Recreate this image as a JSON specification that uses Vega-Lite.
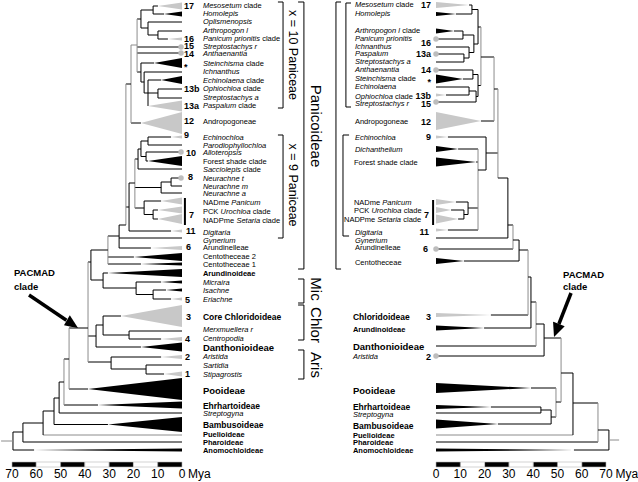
{
"$schema": "https://vega.github.io/schema/vega-lite/v6.json",
"padding": 0,
"spacing": 0,
"bounds": "flush",
"background": "white",
"config": {"view": {"stroke": null}, "text": {"font": "Liberation Sans", "color": "#000000"}},
"datasets": {
"scalebar": [
{"t":70,"t2":60,"y":462,"y2":467,"band":"dark"},{"t":60,"t2":50,"y":462,"y2":467,"band":"blank"},{"t":50,"t2":40,"y":462,"y2":467,"band":"dark"},{"t":40,"t2":30,"y":462,"y2":467,"band":"blank"},{"t":30,"t2":20,"y":462,"y2":467,"band":"dark"},{"t":20,"t2":10,"y":462,"y2":467,"band":"blank"},{"t":10,"t2":0,"y":462,"y2":467,"band":"dark"}],
"ticks": [
{"t":70,"y":474,"label":"70"},{"t":60,"y":474,"label":"60"},{"t":50,"y":474,"label":"50"},{"t":40,"y":474,"label":"40"},{"t":30,"y":474,"label":"30"},{"t":20,"y":474,"label":"20"},{"t":10,"y":474,"label":"10"},{"t":0,"y":474,"label":"0"}],
"branchesL": [
{"t":11.9,"t2":9.9,"y":6,"y2":6,"support":"strong"},
{"t":11.9,"t2":7.4,"y":14,"y2":14,"support":"strong"},
{"t":11.9,"t2":11.9,"y":6,"y2":14,"support":"strong"},
{"t":16.9,"t2":11.9,"y":10,"y2":10,"support":"strong"},
{"t":14.0,"t2":0,"y":22,"y2":22,"support":"strong"},
{"t":9.9,"t2":0,"y":31,"y2":31,"support":"strong"},
{"t":9.9,"t2":5.8,"y":39,"y2":39,"support":"strong"},
{"t":9.9,"t2":9.9,"y":31,"y2":39,"support":"strong"},
{"t":14.0,"t2":9.9,"y":35,"y2":35,"support":"strong"},
{"t":14.0,"t2":14.0,"y":22,"y2":35,"support":"strong"},
{"t":16.9,"t2":14.0,"y":28,"y2":28,"support":"strong"},
{"t":16.9,"t2":16.9,"y":10,"y2":28,"support":"strong"},
{"t":18.5,"t2":16.9,"y":19,"y2":19,"support":"strong"},
{"t":18.5,"t2":0.4,"y":47,"y2":47,"support":"strong"},
{"t":18.5,"t2":0.4,"y":53,"y2":53,"support":"strong"},
{"t":16.9,"t2":11.5,"y":63,"y2":63,"support":"strong"},
{"t":15.6,"t2":0,"y":72,"y2":72,"support":"strong"},
{"t":14.0,"t2":8.6,"y":80,"y2":80,"support":"strong"},
{"t":9.9,"t2":0,"y":89,"y2":89,"support":"strong"},
{"t":9.9,"t2":0,"y":98,"y2":98,"support":"strong"},
{"t":9.9,"t2":9.9,"y":89,"y2":98,"support":"strong"},
{"t":15.6,"t2":9.9,"y":93,"y2":93,"support":"strong"},
{"t":14.0,"t2":14.0,"y":80,"y2":106,"support":"strong"},
{"t":15.6,"t2":15.6,"y":72,"y2":93,"support":"strong"},
{"t":16.9,"t2":15.6,"y":82,"y2":82,"support":"strong"},
{"t":16.9,"t2":16.9,"y":63,"y2":82,"support":"strong"},
{"t":18.5,"t2":16.9,"y":72,"y2":72,"support":"strong"},
{"t":18.5,"t2":18.5,"y":19,"y2":72,"support":"weak"},
{"t":21.0,"t2":18.5,"y":45,"y2":45,"support":"weak"},
{"t":21.0,"t2":16.9,"y":123,"y2":123,"support":"strong"},
{"t":21.0,"t2":21.0,"y":45,"y2":123,"support":"weak"},
{"t":23.1,"t2":21.0,"y":84,"y2":84,"support":"strong"},
{"t":14.0,"t2":4.5,"y":137,"y2":137,"support":"strong"},
{"t":14.0,"t2":0,"y":145,"y2":145,"support":"strong"},
{"t":14.0,"t2":14.0,"y":137,"y2":145,"support":"strong"},
{"t":16.9,"t2":14.0,"y":141,"y2":141,"support":"strong"},
{"t":14.8,"t2":0.4,"y":152,"y2":152,"support":"strong"},
{"t":14.8,"t2":14.0,"y":161,"y2":161,"support":"strong"},
{"t":14.8,"t2":14.8,"y":152,"y2":161,"support":"strong"},
{"t":16.9,"t2":14.8,"y":156.5,"y2":156.5,"support":"strong"},
{"t":16.9,"t2":16.9,"y":141,"y2":156.5,"support":"strong"},
{"t":18.1,"t2":16.9,"y":149,"y2":149,"support":"strong"},
{"t":18.1,"t2":0,"y":169,"y2":169,"support":"strong"},
{"t":18.1,"t2":18.1,"y":149,"y2":169,"support":"strong"},
{"t":19.4,"t2":18.1,"y":159,"y2":159,"support":"strong"},
{"t":4.5,"t2":0.4,"y":178,"y2":178,"support":"strong"},
{"t":4.5,"t2":0,"y":186,"y2":186,"support":"strong"},
{"t":4.5,"t2":4.5,"y":178,"y2":186,"support":"strong"},
{"t":8.6,"t2":4.5,"y":182,"y2":182,"support":"strong"},
{"t":8.6,"t2":0,"y":193,"y2":193,"support":"strong"},
{"t":8.6,"t2":8.6,"y":182,"y2":193,"support":"strong"},
{"t":19.4,"t2":8.6,"y":187.5,"y2":187.5,"support":"strong"},
{"t":15.6,"t2":8.6,"y":201,"y2":201,"support":"strong"},
{"t":11.9,"t2":9.9,"y":210,"y2":210,"support":"strong"},
{"t":11.9,"t2":9.9,"y":219,"y2":219,"support":"strong"},
{"t":11.9,"t2":11.9,"y":210,"y2":219,"support":"strong"},
{"t":15.6,"t2":11.9,"y":214.5,"y2":214.5,"support":"strong"},
{"t":15.6,"t2":15.6,"y":201,"y2":214.5,"support":"strong"},
{"t":19.4,"t2":15.6,"y":208,"y2":208,"support":"strong"},
{"t":19.4,"t2":19.4,"y":159,"y2":208,"support":"weak"},
{"t":21.8,"t2":19.4,"y":183,"y2":183,"support":"strong"},
{"t":21.8,"t2":4.5,"y":231,"y2":231,"support":"strong"},
{"t":21.8,"t2":21.8,"y":183,"y2":231,"support":"strong"},
{"t":23.1,"t2":21.8,"y":207,"y2":207,"support":"strong"},
{"t":23.1,"t2":23.1,"y":84,"y2":225,"support":"weak"},
{"t":25.9,"t2":23.1,"y":225,"y2":225,"support":"strong"},
{"t":25.9,"t2":0,"y":238,"y2":238,"support":"strong"},
{"t":25.9,"t2":12.8,"y":248,"y2":248,"support":"strong"},
{"t":25.9,"t2":25.9,"y":225,"y2":248,"support":"strong"},
{"t":30.5,"t2":25.9,"y":236,"y2":236,"support":"strong"},
{"t":30.5,"t2":19.8,"y":257,"y2":257,"support":"strong"},
{"t":30.5,"t2":16.9,"y":264,"y2":264,"support":"strong"},
{"t":30.5,"t2":30.5,"y":236,"y2":264,"support":"weak"},
{"t":37.5,"t2":30.5,"y":250,"y2":250,"support":"strong"},
{"t":32.5,"t2":30.5,"y":273,"y2":273,"support":"strong"},
{"t":18.9,"t2":8.6,"y":282,"y2":282,"support":"strong"},
{"t":11.9,"t2":6.6,"y":290,"y2":290,"support":"strong"},
{"t":11.9,"t2":4.5,"y":299,"y2":299,"support":"strong"},
{"t":11.9,"t2":11.9,"y":290,"y2":299,"support":"strong"},
{"t":18.9,"t2":11.9,"y":294.5,"y2":294.5,"support":"strong"},
{"t":18.9,"t2":18.9,"y":282,"y2":294.5,"support":"strong"},
{"t":32.5,"t2":18.9,"y":288,"y2":288,"support":"strong"},
{"t":32.5,"t2":32.5,"y":273,"y2":288,"support":"strong"},
{"t":37.5,"t2":32.5,"y":280,"y2":280,"support":"strong"},
{"t":37.5,"t2":37.5,"y":250,"y2":280,"support":"strong"},
{"t":38.7,"t2":37.5,"y":262,"y2":262,"support":"strong"},
{"t":32.5,"t2":25.1,"y":316,"y2":316,"support":"strong"},
{"t":21.8,"t2":0,"y":331,"y2":331,"support":"strong"},
{"t":21.8,"t2":8.6,"y":339,"y2":339,"support":"strong"},
{"t":21.8,"t2":21.8,"y":331,"y2":339,"support":"strong"},
{"t":32.5,"t2":21.8,"y":335,"y2":335,"support":"strong"},
{"t":32.5,"t2":32.5,"y":316,"y2":335,"support":"strong"},
{"t":35.4,"t2":32.5,"y":325,"y2":325,"support":"strong"},
{"t":35.4,"t2":16.9,"y":347,"y2":347,"support":"strong"},
{"t":35.4,"t2":35.4,"y":325,"y2":347,"support":"strong"},
{"t":38.7,"t2":35.4,"y":336,"y2":336,"support":"strong"},
{"t":29.2,"t2":8.6,"y":357,"y2":357,"support":"strong"},
{"t":14.8,"t2":0,"y":365,"y2":365,"support":"strong"},
{"t":14.8,"t2":7.4,"y":374,"y2":374,"support":"strong"},
{"t":14.8,"t2":14.8,"y":365,"y2":374,"support":"strong"},
{"t":29.2,"t2":14.8,"y":369,"y2":369,"support":"strong"},
{"t":29.2,"t2":29.2,"y":357,"y2":369,"support":"strong"},
{"t":38.7,"t2":29.2,"y":362,"y2":362,"support":"strong"},
{"t":38.7,"t2":38.7,"y":262,"y2":362,"support":"weak"},
{"t":46.5,"t2":38.7,"y":328,"y2":328,"support":"strong"},
{"t":46.5,"t2":38.7,"y":389,"y2":389,"support":"strong"},
{"t":46.5,"t2":46.5,"y":328,"y2":389,"support":"weak"},
{"t":48.6,"t2":46.5,"y":359,"y2":359,"support":"strong"},
{"t":48.6,"t2":34.6,"y":405,"y2":405,"support":"strong"},
{"t":48.6,"t2":48.6,"y":359,"y2":405,"support":"weak"},
{"t":50.6,"t2":48.6,"y":382,"y2":382,"support":"strong"},
{"t":50.6,"t2":0,"y":413,"y2":413,"support":"strong"},
{"t":50.6,"t2":50.6,"y":382,"y2":413,"support":"strong"},
{"t":52.7,"t2":50.6,"y":398,"y2":398,"support":"strong"},
{"t":52.7,"t2":30.5,"y":424.5,"y2":424.5,"support":"strong"},
{"t":52.7,"t2":52.7,"y":398,"y2":424.5,"support":"strong"},
{"t":57.2,"t2":52.7,"y":411,"y2":411,"support":"strong"},
{"t":57.2,"t2":0,"y":435,"y2":435,"support":"weak"},
{"t":57.2,"t2":57.2,"y":411,"y2":435,"support":"strong"},
{"t":65.5,"t2":57.2,"y":423,"y2":423,"support":"strong"},
{"t":65.5,"t2":0,"y":442,"y2":442,"support":"strong"},
{"t":65.5,"t2":65.5,"y":423,"y2":442,"support":"strong"},
{"t":69.6,"t2":65.5,"y":432,"y2":432,"support":"strong"},
{"t":69.6,"t2":60.9,"y":450,"y2":450,"support":"strong"},
{"t":69.6,"t2":69.6,"y":432,"y2":450,"support":"strong"},
{"t":74.5,"t2":69.6,"y":441,"y2":441,"support":"weak"}],
"branchesR": [
{"t":13.6,"t2":14.8,"y":5,"y2":5,"support":"strong"},
{"t":8.2,"t2":14.8,"y":14,"y2":14,"support":"strong"},
{"t":14.8,"t2":14.8,"y":5,"y2":14,"support":"strong"},
{"t":14.8,"t2":17.3,"y":9.5,"y2":9.5,"support":"strong"},
{"t":7.4,"t2":11.1,"y":31,"y2":31,"support":"strong"},
{"t":0,"t2":11.1,"y":39,"y2":39,"support":"strong"},
{"t":11.1,"t2":11.1,"y":31,"y2":39,"support":"strong"},
{"t":11.1,"t2":15.6,"y":35,"y2":35,"support":"strong"},
{"t":0,"t2":13.6,"y":47,"y2":47,"support":"strong"},
{"t":0,"t2":11.5,"y":54,"y2":54,"support":"strong"},
{"t":0,"t2":11.5,"y":62,"y2":62,"support":"strong"},
{"t":11.5,"t2":11.5,"y":54,"y2":62,"support":"strong"},
{"t":11.5,"t2":13.6,"y":58,"y2":58,"support":"strong"},
{"t":13.6,"t2":13.6,"y":47,"y2":58,"support":"strong"},
{"t":13.6,"t2":15.6,"y":52.5,"y2":52.5,"support":"strong"},
{"t":15.6,"t2":15.6,"y":35,"y2":52.5,"support":"strong"},
{"t":15.6,"t2":17.3,"y":44,"y2":44,"support":"strong"},
{"t":17.3,"t2":17.3,"y":9.5,"y2":44,"support":"strong"},
{"t":17.3,"t2":18.5,"y":27,"y2":27,"support":"strong"},
{"t":0,"t2":15.2,"y":70,"y2":70,"support":"strong"},
{"t":11.1,"t2":15.2,"y":79,"y2":79,"support":"strong"},
{"t":15.2,"t2":15.2,"y":70,"y2":79,"support":"strong"},
{"t":15.2,"t2":17.3,"y":74.5,"y2":74.5,"support":"strong"},
{"t":0,"t2":13.6,"y":87,"y2":87,"support":"strong"},
{"t":4.1,"t2":13.6,"y":95,"y2":95,"support":"strong"},
{"t":13.6,"t2":13.6,"y":87,"y2":95,"support":"strong"},
{"t":13.6,"t2":16.5,"y":91,"y2":91,"support":"strong"},
{"t":0,"t2":16.5,"y":102,"y2":102,"support":"strong"},
{"t":16.5,"t2":16.5,"y":91,"y2":102,"support":"strong"},
{"t":16.5,"t2":17.3,"y":96.5,"y2":96.5,"support":"strong"},
{"t":17.3,"t2":17.3,"y":74.5,"y2":96.5,"support":"strong"},
{"t":17.3,"t2":18.5,"y":85.5,"y2":85.5,"support":"strong"},
{"t":18.5,"t2":18.5,"y":27,"y2":85.5,"support":"weak"},
{"t":18.5,"t2":23.9,"y":57,"y2":57,"support":"strong"},
{"t":18.5,"t2":23.9,"y":121,"y2":121,"support":"strong"},
{"t":23.9,"t2":23.9,"y":57,"y2":121,"support":"weak"},
{"t":23.9,"t2":25.5,"y":89,"y2":89,"support":"strong"},
{"t":4.9,"t2":20.6,"y":137,"y2":137,"support":"strong"},
{"t":9.1,"t2":17.3,"y":149,"y2":149,"support":"strong"},
{"t":16.5,"t2":17.3,"y":162,"y2":162,"support":"strong"},
{"t":8.2,"t2":13.2,"y":202,"y2":202,"support":"strong"},
{"t":6.2,"t2":11.5,"y":210,"y2":210,"support":"strong"},
{"t":9.1,"t2":11.5,"y":219,"y2":219,"support":"strong"},
{"t":11.5,"t2":11.5,"y":210,"y2":219,"support":"strong"},
{"t":11.5,"t2":13.2,"y":214.5,"y2":214.5,"support":"strong"},
{"t":13.2,"t2":13.2,"y":202,"y2":214.5,"support":"strong"},
{"t":13.2,"t2":17.3,"y":208,"y2":208,"support":"strong"},
{"t":4.9,"t2":17.3,"y":230,"y2":230,"support":"strong"},
{"t":17.3,"t2":17.3,"y":149,"y2":230,"support":"weak"},
{"t":17.3,"t2":20.6,"y":170,"y2":170,"support":"strong"},
{"t":20.6,"t2":20.6,"y":137,"y2":170,"support":"strong"},
{"t":20.6,"t2":25.5,"y":153,"y2":153,"support":"strong"},
{"t":25.5,"t2":25.5,"y":89,"y2":178,"support":"weak"},
{"t":25.5,"t2":29.6,"y":178,"y2":178,"support":"strong"},
{"t":0,"t2":29.6,"y":238,"y2":238,"support":"strong"},
{"t":29.6,"t2":29.6,"y":178,"y2":238,"support":"strong"},
{"t":29.6,"t2":31.7,"y":225,"y2":225,"support":"strong"},
{"t":0,"t2":31.7,"y":249,"y2":249,"support":"strong"},
{"t":31.7,"t2":31.7,"y":225,"y2":249,"support":"weak"},
{"t":31.7,"t2":34.2,"y":240,"y2":240,"support":"strong"},
{"t":11.5,"t2":34.2,"y":261,"y2":261,"support":"strong"},
{"t":34.2,"t2":34.2,"y":240,"y2":261,"support":"strong"},
{"t":34.2,"t2":37.9,"y":250,"y2":250,"support":"strong"},
{"t":22.6,"t2":37.9,"y":315,"y2":315,"support":"strong"},
{"t":37.9,"t2":37.9,"y":250,"y2":315,"support":"weak"},
{"t":37.9,"t2":39.1,"y":277,"y2":277,"support":"strong"},
{"t":19.8,"t2":39.1,"y":328,"y2":328,"support":"strong"},
{"t":39.1,"t2":39.1,"y":277,"y2":328,"support":"strong"},
{"t":39.1,"t2":41.2,"y":302,"y2":302,"support":"strong"},
{"t":0,"t2":41.2,"y":346,"y2":346,"support":"strong"},
{"t":41.2,"t2":41.2,"y":302,"y2":346,"support":"weak"},
{"t":41.2,"t2":44.5,"y":324,"y2":324,"support":"strong"},
{"t":0,"t2":44.5,"y":356,"y2":356,"support":"strong"},
{"t":44.5,"t2":44.5,"y":324,"y2":356,"support":"strong"},
{"t":44.5,"t2":51.5,"y":338,"y2":338,"support":"strong"},
{"t":39.1,"t2":49.4,"y":388,"y2":388,"support":"strong"},
{"t":22.6,"t2":43.2,"y":407,"y2":407,"support":"strong"},
{"t":0,"t2":43.2,"y":413,"y2":413,"support":"strong"},
{"t":43.2,"t2":43.2,"y":407,"y2":413,"support":"strong"},
{"t":43.2,"t2":47.4,"y":410,"y2":410,"support":"strong"},
{"t":25.5,"t2":47.4,"y":424,"y2":424,"support":"strong"},
{"t":47.4,"t2":47.4,"y":410,"y2":424,"support":"strong"},
{"t":47.4,"t2":49.4,"y":417,"y2":417,"support":"strong"},
{"t":49.4,"t2":49.4,"y":388,"y2":417,"support":"weak"},
{"t":49.4,"t2":51.5,"y":402,"y2":402,"support":"strong"},
{"t":51.5,"t2":51.5,"y":338,"y2":402,"support":"weak"},
{"t":51.5,"t2":56.4,"y":373,"y2":373,"support":"strong"},
{"t":0,"t2":56.4,"y":435,"y2":435,"support":"weak"},
{"t":56.4,"t2":56.4,"y":373,"y2":435,"support":"strong"},
{"t":56.4,"t2":66.7,"y":403,"y2":403,"support":"strong"},
{"t":0,"t2":66.7,"y":442,"y2":442,"support":"strong"},
{"t":66.7,"t2":66.7,"y":403,"y2":442,"support":"weak"},
{"t":66.7,"t2":71.2,"y":430,"y2":430,"support":"strong"},
{"t":56.8,"t2":71.2,"y":450,"y2":450,"support":"strong"},
{"t":71.2,"t2":71.2,"y":430,"y2":450,"support":"strong"},
{"t":71.2,"t2":75.4,"y":440,"y2":440,"support":"weak"}],
"cladesL": [
{"clade":"17","t":9.9,"lo":6,"hi":6,"shade":"light"},{"clade":"17","t":0,"lo":2.5,"hi":9.5,"shade":"light"},
{"clade":"Homolepis","t":7.4,"lo":14,"hi":14,"shade":"dark"},{"clade":"Homolepis","t":0,"lo":11.5,"hi":16.5,"shade":"dark"},
{"clade":"16","t":5.8,"lo":39,"hi":39,"shade":"light"},{"clade":"16","t":0,"lo":37.5,"hi":40.5,"shade":"light"},
{"clade":"Steinchisma","t":11.5,"lo":63,"hi":63,"shade":"dark"},{"clade":"Steinchisma","t":0,"lo":58,"hi":68,"shade":"dark"},
{"clade":"Echinolaena","t":8.6,"lo":80,"hi":80,"shade":"dark"},{"clade":"Echinolaena","t":0,"lo":76,"hi":84,"shade":"dark"},
{"clade":"Paspalum","t":14.0,"lo":106,"hi":106,"shade":"light"},{"clade":"Paspalum","t":0,"lo":100.5,"hi":111.5,"shade":"light"},
{"clade":"Andropogoneae","t":16.9,"lo":123,"hi":123,"shade":"light"},{"clade":"Andropogoneae","t":0,"lo":112,"hi":134,"shade":"light"},
{"clade":"Echinochloa","t":4.5,"lo":137,"hi":137,"shade":"light"},{"clade":"Echinochloa","t":0,"lo":135.5,"hi":138.5,"shade":"light"},
{"clade":"Forest","t":14.0,"lo":161,"hi":161,"shade":"dark"},{"clade":"Forest","t":0,"lo":156,"hi":166,"shade":"dark"},
{"clade":"NADme","t":8.6,"lo":201,"hi":201,"shade":"light"},{"clade":"NADme","t":0,"lo":197.5,"hi":204.5,"shade":"light"},
{"clade":"PCK","t":9.9,"lo":210,"hi":210,"shade":"light"},{"clade":"PCK","t":0,"lo":206.5,"hi":213.5,"shade":"light"},
{"clade":"NADPme","t":9.9,"lo":219,"hi":219,"shade":"light"},{"clade":"NADPme","t":0,"lo":214,"hi":224,"shade":"light"},
{"clade":"Digitaria","t":4.5,"lo":231,"hi":231,"shade":"light"},{"clade":"Digitaria","t":0,"lo":229.5,"hi":232.5,"shade":"light"},
{"clade":"Arundinelleae","t":12.8,"lo":248,"hi":248,"shade":"light"},{"clade":"Arundinelleae","t":0,"lo":246,"hi":250,"shade":"light"},
{"clade":"Cent2","t":19.8,"lo":257,"hi":257,"shade":"dark"},{"clade":"Cent2","t":0,"lo":253,"hi":261,"shade":"dark"},
{"clade":"Cent1","t":16.9,"lo":264,"hi":264,"shade":"dark"},{"clade":"Cent1","t":0,"lo":262.5,"hi":265.5,"shade":"dark"},
{"clade":"Arundinoideae","t":30.5,"lo":273,"hi":273,"shade":"dark"},{"clade":"Arundinoideae","t":0,"lo":269,"hi":277,"shade":"dark"},
{"clade":"Micraira","t":8.6,"lo":282,"hi":282,"shade":"dark"},{"clade":"Micraira","t":0,"lo":280.5,"hi":283.5,"shade":"dark"},
{"clade":"Isachne","t":6.6,"lo":290,"hi":290,"shade":"dark"},{"clade":"Isachne","t":0,"lo":288.5,"hi":291.5,"shade":"dark"},
{"clade":"Eriachne","t":4.5,"lo":299,"hi":299,"shade":"light"},{"clade":"Eriachne","t":0,"lo":297.5,"hi":300.5,"shade":"light"},
{"clade":"CoreChlor","t":25.1,"lo":316,"hi":316,"shade":"light"},{"clade":"CoreChlor","t":0,"lo":305,"hi":327,"shade":"light"},
{"clade":"Centropodia","t":8.6,"lo":339,"hi":339,"shade":"light"},{"clade":"Centropodia","t":0,"lo":337,"hi":341,"shade":"light"},
{"clade":"Danthonioideae","t":16.9,"lo":347,"hi":347,"shade":"dark"},{"clade":"Danthonioideae","t":0,"lo":342.5,"hi":351.5,"shade":"dark"},
{"clade":"Aristida","t":8.6,"lo":357,"hi":357,"shade":"light"},{"clade":"Aristida","t":0,"lo":355,"hi":359,"shade":"light"},
{"clade":"Stipagrostis","t":7.4,"lo":374,"hi":374,"shade":"light"},{"clade":"Stipagrostis","t":0,"lo":371.5,"hi":376.5,"shade":"light"},
{"clade":"Pooideae","t":38.7,"lo":389,"hi":389,"shade":"dark"},{"clade":"Pooideae","t":0,"lo":378,"hi":400,"shade":"dark"},
{"clade":"Ehrhartoideae","t":34.6,"lo":405,"hi":405,"shade":"dark"},{"clade":"Ehrhartoideae","t":0,"lo":401.5,"hi":408.5,"shade":"dark"},
{"clade":"Bambusoideae","t":30.5,"lo":424.5,"hi":424.5,"shade":"dark"},{"clade":"Bambusoideae","t":0,"lo":417,"hi":432,"shade":"dark"},
{"clade":"Anomochloideae","t":60.9,"lo":450,"hi":450,"shade":"dark"},{"clade":"Anomochloideae","t":0,"lo":448.5,"hi":451.5,"shade":"dark"}],
"cladesR": [
{"clade":"17","t":13.6,"lo":5,"hi":5,"shade":"light"},{"clade":"17","t":0,"lo":2,"hi":8,"shade":"light"},
{"clade":"Homolepis","t":8.2,"lo":14,"hi":14,"shade":"dark"},{"clade":"Homolepis","t":0,"lo":12,"hi":16,"shade":"dark"},
{"clade":"Arthropogon","t":7.4,"lo":31,"hi":31,"shade":"dark"},{"clade":"Arthropogon","t":0,"lo":28.5,"hi":33.5,"shade":"dark"},
{"clade":"Steinchisma","t":11.1,"lo":79,"hi":79,"shade":"dark"},{"clade":"Steinchisma","t":0,"lo":74.5,"hi":83.5,"shade":"dark"},
{"clade":"Ophiochloa","t":4.1,"lo":95,"hi":95,"shade":"light"},{"clade":"Ophiochloa","t":0,"lo":93.5,"hi":96.5,"shade":"light"},
{"clade":"Andropogoneae","t":18.5,"lo":121,"hi":121,"shade":"light"},{"clade":"Andropogoneae","t":0,"lo":112,"hi":130,"shade":"light"},
{"clade":"Echinochloa","t":4.9,"lo":137,"hi":137,"shade":"light"},{"clade":"Echinochloa","t":0,"lo":135.5,"hi":138.5,"shade":"light"},
{"clade":"Dichanthelium","t":9.1,"lo":149,"hi":149,"shade":"dark"},{"clade":"Dichanthelium","t":0,"lo":146,"hi":152,"shade":"dark"},
{"clade":"Forest","t":16.5,"lo":162,"hi":162,"shade":"dark"},{"clade":"Forest","t":0,"lo":157.5,"hi":166.5,"shade":"dark"},
{"clade":"NADme","t":8.2,"lo":202,"hi":202,"shade":"light"},{"clade":"NADme","t":0,"lo":199,"hi":205,"shade":"light"},
{"clade":"PCK","t":6.2,"lo":210,"hi":210,"shade":"light"},{"clade":"PCK","t":0,"lo":207,"hi":213,"shade":"light"},
{"clade":"NADPme","t":9.1,"lo":219,"hi":219,"shade":"light"},{"clade":"NADPme","t":0,"lo":214.5,"hi":223.5,"shade":"light"},
{"clade":"Digitaria","t":4.9,"lo":230,"hi":230,"shade":"light"},{"clade":"Digitaria","t":0,"lo":228.5,"hi":231.5,"shade":"light"},
{"clade":"Centotheceae","t":11.5,"lo":261,"hi":261,"shade":"dark"},{"clade":"Centotheceae","t":0,"lo":258,"hi":264,"shade":"dark"},
{"clade":"Chloridoideae","t":22.6,"lo":315,"hi":315,"shade":"light"},{"clade":"Chloridoideae","t":0,"lo":313,"hi":317,"shade":"light"},
{"clade":"Arundinoideae","t":19.8,"lo":328,"hi":328,"shade":"dark"},{"clade":"Arundinoideae","t":0,"lo":325.5,"hi":330.5,"shade":"dark"},
{"clade":"Pooideae","t":39.1,"lo":388,"hi":388,"shade":"dark"},{"clade":"Pooideae","t":0,"lo":383,"hi":393,"shade":"dark"},
{"clade":"Ehrhartoideae","t":22.6,"lo":407,"hi":407,"shade":"dark"},{"clade":"Ehrhartoideae","t":0,"lo":405,"hi":409,"shade":"dark"},
{"clade":"Bambusoideae","t":25.5,"lo":424,"hi":424,"shade":"dark"},{"clade":"Bambusoideae","t":0,"lo":419.5,"hi":428.5,"shade":"dark"},
{"clade":"Anomochloideae","t":56.8,"lo":450,"hi":450,"shade":"dark"},{"clade":"Anomochloideae","t":0,"lo":448.5,"hi":451.5,"shade":"dark"}],
"tipsL": [{"t":0.4,"y":47},{"t":0.4,"y":53},{"t":0.4,"y":152},{"t":0.4,"y":178}],
"tipsR": [{"t":0,"y":39},{"t":0,"y":54},{"t":0,"y":70},{"t":0,"y":102},{"t":0,"y":249},{"t":0,"y":356}],
"bracketsL": [
{"t":-41.6,"t2":-41.6,"y":2,"y2":108,"kind":"bracket"},{"t":-39.5,"t2":-41.6,"y":2,"y2":2,"kind":"bracket"},{"t":-39.5,"t2":-41.6,"y":108,"y2":108,"kind":"bracket"},
{"t":-41.6,"t2":-41.6,"y":135,"y2":238,"kind":"bracket"},{"t":-39.5,"t2":-41.6,"y":135,"y2":135,"kind":"bracket"},{"t":-39.5,"t2":-41.6,"y":238,"y2":238,"kind":"bracket"},
{"t":-50.2,"t2":-50.2,"y":2,"y2":269,"kind":"bracket"},{"t":-47.8,"t2":-50.2,"y":2,"y2":2,"kind":"bracket"},{"t":-47.8,"t2":-50.2,"y":269,"y2":269,"kind":"bracket"},
{"t":-50.2,"t2":-50.2,"y":279,"y2":303,"kind":"bracket"},{"t":-47.8,"t2":-50.2,"y":279,"y2":279,"kind":"bracket"},{"t":-47.8,"t2":-50.2,"y":303,"y2":303,"kind":"bracket"},
{"t":-50.2,"t2":-50.2,"y":305,"y2":340,"kind":"bracket"},{"t":-47.8,"t2":-50.2,"y":305,"y2":305,"kind":"bracket"},{"t":-47.8,"t2":-50.2,"y":340,"y2":340,"kind":"bracket"},
{"t":-50.2,"t2":-50.2,"y":350,"y2":379,"kind":"bracket"},{"t":-47.8,"t2":-50.2,"y":350,"y2":350,"kind":"bracket"},{"t":-47.8,"t2":-50.2,"y":379,"y2":379,"kind":"bracket"},
{"t":-1.2,"t2":-1.2,"y":198,"y2":225,"kind":"bar"}],
"bracketsR": [
{"t":-41.2,"t2":-41.2,"y":2,"y2":269,"kind":"bracket"},{"t":-41.2,"t2":-39.1,"y":2,"y2":2,"kind":"bracket"},{"t":-41.2,"t2":-39.1,"y":269,"y2":269,"kind":"bracket"},
{"t":-37.1,"t2":-37.1,"y":3,"y2":107,"kind":"bracket"},{"t":-37.1,"t2":-35.0,"y":3,"y2":3,"kind":"bracket"},{"t":-37.1,"t2":-35.0,"y":107,"y2":107,"kind":"bracket"},
{"t":-38.3,"t2":-38.3,"y":135,"y2":236,"kind":"bracket"},{"t":-38.3,"t2":-35.8,"y":135,"y2":135,"kind":"bracket"},{"t":-38.3,"t2":-35.8,"y":236,"y2":236,"kind":"bracket"},
{"t":-1.2,"t2":-1.2,"y":200,"y2":225,"kind":"bar"}],
"arrowL": [{"t":63.0,"t2":47.6,"y":295,"y2":320.2}],
"arrowR": [{"t":55.6,"t2":50.6,"y":293,"y2":324}],
"headL": [{"t":48.6,"lo":325.2,"hi":325.2},{"t":46.2,"lo":315.2,"hi":326.5},{"t":42.8,"lo":328,"hi":328}],
"headR": [{"t":48.2,"lo":321.8,"hi":321.8},{"t":48.6,"lo":322.0,"hi":337},{"t":53.0,"lo":326.2,"hi":326.2}],
"labelsL": [
{"t":-8.6,"y":6,"label":"Mesosetum","kind":"genus"},{"t":-25.4,"y":6,"label":"clade","kind":"group"},
{"t":-8.6,"y":14,"label":"Homolepis","kind":"genus"},
{"t":-8.6,"y":22,"label":"Oplismenopsis","kind":"genus"},
{"t":-8.6,"y":31,"label":"Arthropogon l","kind":"genus"},
{"t":-8.6,"y":39,"label":"Panicum prionitis","kind":"genus"},{"t":-33.0,"y":39,"label":"clade","kind":"group"},
{"t":-8.6,"y":46.5,"label":"Streptostachys r","kind":"genus"},
{"t":-8.6,"y":53.5,"label":"Anthaenantia","kind":"genus"},
{"t":-8.6,"y":64,"label":"Steinchisma","kind":"genus"},{"t":-26.3,"y":64,"label":"clade","kind":"group"},
{"t":-8.6,"y":72,"label":"Ichnanthus","kind":"genus"},
{"t":-8.6,"y":81,"label":"Echinolaena","kind":"genus"},{"t":-26.5,"y":81,"label":"clade","kind":"group"},
{"t":-8.6,"y":89,"label":"Ophiochloa","kind":"genus"},{"t":-25.1,"y":89,"label":"clade","kind":"group"},
{"t":-8.6,"y":98,"label":"Streptostachys a","kind":"genus"},
{"t":-8.6,"y":106,"label":"Paspalum","kind":"genus"},{"t":-23.2,"y":106,"label":"clade","kind":"group"},
{"t":-8.6,"y":122,"label":"Andropogoneae","kind":"group"},
{"t":-8.6,"y":138,"label":"Echinochloa","kind":"genus"},
{"t":-8.6,"y":146,"label":"Parodiophyllochloa","kind":"genus"},
{"t":-8.6,"y":153,"label":"Alloteropsis","kind":"genus"},
{"t":-8.6,"y":162,"label":"Forest shade clade","kind":"group"},
{"t":-8.6,"y":170,"label":"Sacciolepis","kind":"genus"},{"t":-25.1,"y":170,"label":"clade","kind":"group"},
{"t":-8.6,"y":179,"label":"Neurachne t","kind":"genus"},
{"t":-8.6,"y":187,"label":"Neurachne m","kind":"genus"},
{"t":-8.6,"y":194,"label":"Neurachne a","kind":"genus"},
{"t":-8.6,"y":203,"label":"NADme","kind":"group"},{"t":-20.3,"y":203,"label":"Panicum","kind":"genus"},
{"t":-8.6,"y":212,"label":"PCK","kind":"group"},{"t":-15.9,"y":212,"label":"Urochloa","kind":"genus"},{"t":-29.1,"y":212,"label":"clade","kind":"group"},
{"t":-8.6,"y":221,"label":"NADPme","kind":"group"},{"t":-22.4,"y":221,"label":"Setaria","kind":"genus"},{"t":-33.0,"y":221,"label":"clade","kind":"group"},
{"t":-8.6,"y":233,"label":"Digitaria","kind":"genus"},
{"t":-8.6,"y":241,"label":"Gynerium","kind":"genus"},
{"t":-8.6,"y":248,"label":"Arundinelleae","kind":"group"},
{"t":-8.6,"y":257,"label":"Centotheceae 2","kind":"group"},
{"t":-8.6,"y":265,"label":"Centotheceae 1","kind":"group"},
{"t":-8.6,"y":274,"label":"Arundinoideae","kind":"subfamily","rank":"minor"},
{"t":-8.6,"y":283,"label":"Micraira","kind":"genus"},
{"t":-8.6,"y":291,"label":"Isachne","kind":"genus"},
{"t":-8.6,"y":300,"label":"Eriachne","kind":"genus"},
{"t":-8.6,"y":317,"label":"Core Chloridoideae","kind":"subfamily","rank":"main"},
{"t":-8.6,"y":330,"label":"Merxmuellera r","kind":"genus"},
{"t":-8.6,"y":339,"label":"Centropodia","kind":"genus"},
{"t":-8.6,"y":348,"label":"Danthonioideae","kind":"subfamily","rank":"major"},
{"t":-8.6,"y":357,"label":"Aristida","kind":"genus"},
{"t":-8.6,"y":366,"label":"Sartidia","kind":"genus"},
{"t":-8.6,"y":375,"label":"Stipagrostis","kind":"genus"},
{"t":-8.6,"y":391,"label":"Pooideae","kind":"subfamily","rank":"major"},
{"t":-8.6,"y":406,"label":"Ehrhartoideae","kind":"subfamily","rank":"main"},
{"t":-8.6,"y":414,"label":"Streptogyna","kind":"genus"},
{"t":-8.6,"y":425,"label":"Bambusoideae","kind":"subfamily","rank":"main"},
{"t":-8.6,"y":435,"label":"Puelioideae","kind":"subfamily","rank":"minor"},
{"t":-8.6,"y":443,"label":"Pharoideae","kind":"subfamily","rank":"minor"},
{"t":-8.6,"y":451,"label":"Anomochloideae","kind":"subfamily","rank":"minor"},
{"t":-0.8,"y":6,"label":"17","kind":"number"},{"t":-0.8,"y":38.5,"label":"16","kind":"number"},{"t":-0.8,"y":46,"label":"15","kind":"number"},{"t":-0.8,"y":53.5,"label":"14","kind":"number"},{"t":-0.8,"y":67,"label":"*","kind":"number"},{"t":-0.8,"y":89,"label":"13b","kind":"number"},{"t":-0.8,"y":106,"label":"13a","kind":"number"},{"t":-0.8,"y":121,"label":"12","kind":"number"},{"t":-0.8,"y":135,"label":"9","kind":"number"},{"t":-1.6,"y":153,"label":"10","kind":"number"},{"t":-2.5,"y":177,"label":"8","kind":"number"},{"t":-2.9,"y":215,"label":"7","kind":"number"},{"t":-1.6,"y":231,"label":"11","kind":"number"},{"t":-1.6,"y":247,"label":"6","kind":"number"},{"t":-1.2,"y":300,"label":"5","kind":"number"},{"t":-1.6,"y":317,"label":"3","kind":"number"},{"t":-1.2,"y":339,"label":"4","kind":"number"},{"t":-1.2,"y":357,"label":"2","kind":"number"},{"t":-1.2,"y":374,"label":"1","kind":"number"},
{"t":69.2,"y":273,"label":"PACMAD","kind":"callout"},{"t":69.2,"y":287,"label":"clade","kind":"callout"},
{"t":-45.7,"y":55,"label":"x = 10 Paniceae","kind":"tribe"},{"t":-45.7,"y":185,"label":"x = 9 Paniceae","kind":"tribe"},
{"t":-55.2,"y":126,"label":"Panicoideae","kind":"taxon"},{"t":-55.2,"y":289,"label":"Mic","kind":"taxon"},{"t":-55.2,"y":325,"label":"Chlor","kind":"taxon"},{"t":-55.2,"y":365,"label":"Aris","kind":"taxon"},
{"t":-2.5,"y":474,"label":"Mya","kind":"unit"}],
"labelsR": [
{"t":-33.4,"y":5,"label":"Mesosetum","kind":"genus"},{"t":-16.6,"y":5,"label":"clade","kind":"group"},
{"t":-33.4,"y":14,"label":"Homolepis","kind":"genus"},
{"t":-33.4,"y":31,"label":"Arthropogon l","kind":"genus"},{"t":-13.9,"y":31,"label":"clade","kind":"group"},
{"t":-33.4,"y":39,"label":"Panicum prionitis","kind":"genus"},
{"t":-33.4,"y":47,"label":"Ichnanthus","kind":"genus"},
{"t":-33.4,"y":54,"label":"Paspalum","kind":"genus"},
{"t":-33.4,"y":62,"label":"Streptostachys a","kind":"genus"},
{"t":-33.4,"y":70,"label":"Anthaenantia","kind":"genus"},
{"t":-33.4,"y":79,"label":"Steinchisma","kind":"genus"},{"t":-15.7,"y":79,"label":"clade","kind":"group"},
{"t":-33.4,"y":87,"label":"Echinolaena","kind":"genus"},
{"t":-33.4,"y":96.5,"label":"Ophiochloa","kind":"genus"},{"t":-16.9,"y":96.5,"label":"clade","kind":"group"},
{"t":-33.4,"y":103.5,"label":"Streptostachys r","kind":"genus"},
{"t":-33.4,"y":122,"label":"Andropogoneae","kind":"group"},
{"t":-33.4,"y":138,"label":"Echinochloa","kind":"genus"},
{"t":-33.4,"y":150,"label":"Dichanthelium","kind":"genus"},
{"t":-33.8,"y":163,"label":"Forest shade clade","kind":"group"},
{"t":-33.8,"y":203,"label":"NADme","kind":"group"},{"t":-22.1,"y":203,"label":"Panicum","kind":"genus"},
{"t":-33.8,"y":211,"label":"PCK","kind":"group"},{"t":-26.6,"y":211,"label":"Urochloa","kind":"genus"},{"t":-13.3,"y":211,"label":"clade","kind":"group"},
{"t":-37.9,"y":220,"label":"NADPme","kind":"group"},{"t":-24.2,"y":220,"label":"Setaria","kind":"genus"},{"t":-13.5,"y":220,"label":"clade","kind":"group"},
{"t":-33.4,"y":233,"label":"Digitaria","kind":"genus"},
{"t":-33.4,"y":241,"label":"Gynerium","kind":"genus"},
{"t":-33.4,"y":248,"label":"Arundinelleae","kind":"group"},
{"t":-33.4,"y":263,"label":"Centotheceae","kind":"group"},
{"t":-34.2,"y":317,"label":"Chloridoideae","kind":"subfamily","rank":"main"},
{"t":-34.2,"y":330,"label":"Arundinoideae","kind":"subfamily","rank":"minor"},
{"t":-34.2,"y":347,"label":"Danthonioideae","kind":"subfamily","rank":"major"},
{"t":-34.2,"y":357,"label":"Aristida","kind":"genus"},
{"t":-34.2,"y":391,"label":"Pooideae","kind":"subfamily","rank":"major"},
{"t":-34.2,"y":407,"label":"Ehrhartoideae","kind":"subfamily","rank":"main"},
{"t":-34.2,"y":415,"label":"Streptogyna","kind":"genus"},
{"t":-34.2,"y":426,"label":"Bambusoideae","kind":"subfamily","rank":"main"},
{"t":-34.2,"y":436,"label":"Puelioideae","kind":"subfamily","rank":"minor"},
{"t":-34.2,"y":443,"label":"Pharoideae","kind":"subfamily","rank":"minor"},
{"t":-34.2,"y":451,"label":"Anomochloideae","kind":"subfamily","rank":"minor"},
{"t":-2.1,"y":5,"label":"17","kind":"number"},{"t":-2.1,"y":43,"label":"16","kind":"number"},{"t":-2.1,"y":54,"label":"13a","kind":"number"},{"t":-2.1,"y":70,"label":"14","kind":"number"},{"t":-2.1,"y":82,"label":"*","kind":"number"},{"t":-2.1,"y":96,"label":"13b","kind":"number"},{"t":-2.1,"y":104,"label":"15","kind":"number"},{"t":-2.1,"y":122,"label":"12","kind":"number"},{"t":-2.1,"y":137,"label":"9","kind":"number"},{"t":-2.9,"y":215,"label":"7","kind":"number"},{"t":-2.9,"y":232,"label":"11","kind":"number"},{"t":-3.3,"y":249,"label":"6","kind":"number"},{"t":-2.1,"y":317,"label":"3","kind":"number"},{"t":-2.1,"y":357,"label":"2","kind":"number"},
{"t":52.3,"y":275,"label":"PACMAD","kind":"callout"},{"t":52.3,"y":287,"label":"clade","kind":"callout"},
{"t":73.9,"y":474,"label":"Mya","kind":"unit"}]
},
"hconcat": [
{
"width": 330, "height": 482,
"layer": [
{"data":{"name":"scalebar"},"mark":{"type":"rect","stroke":"#b5b5b5","strokeWidth":0.6},
 "encoding":{"x":{"field":"t","type":"quantitative","scale":{"domain":[-61.35,74.53],"reverse":true,"nice":false,"zero":false},"axis":null},"x2":{"field":"t2"},
 "y":{"field":"y","type":"quantitative","scale":{"domain":[0,482],"reverse":true,"nice":false,"zero":false},"axis":null},"y2":{"field":"y2"},
 "fill":{"field":"band","type":"nominal","scale":{"domain":["dark","light","blank"],"range":["#000000","#c8c8c8","#ffffff"]},"legend":null}}},
{"data":{"name":"branchesL"},"mark":{"type":"rule","strokeWidth":1},
 "encoding":{"x":{"field":"t","type":"quantitative","scale":{"domain":[-61.35,74.53],"reverse":true,"nice":false,"zero":false},"axis":null},"x2":{"field":"t2"},
 "y":{"field":"y","type":"quantitative","scale":{"domain":[0,482],"reverse":true,"nice":false,"zero":false},"axis":null},"y2":{"field":"y2"},
 "stroke":{"field":"support","type":"nominal","scale":{"domain":["strong","weak"],"range":["#000000","#8c8c8c"]},"legend":null}}},
{"data":{"name":"bracketsL"},"transform":[{"filter":"datum.kind == 'bracket'"}],"mark":{"type":"rule","strokeWidth":1,"color":"#000000"},
 "encoding":{"x":{"field":"t","type":"quantitative","scale":{"domain":[-61.35,74.53],"reverse":true,"nice":false,"zero":false},"axis":null},"x2":{"field":"t2"},
 "y":{"field":"y","type":"quantitative","scale":{"domain":[0,482],"reverse":true,"nice":false,"zero":false},"axis":null},"y2":{"field":"y2"}}},
{"data":{"name":"bracketsL"},"transform":[{"filter":"datum.kind == 'bar'"}],"mark":{"type":"rule","strokeWidth":2,"color":"#000000"},
 "encoding":{"x":{"field":"t","type":"quantitative","scale":{"domain":[-61.35,74.53],"reverse":true,"nice":false,"zero":false},"axis":null},"x2":{"field":"t2"},
 "y":{"field":"y","type":"quantitative","scale":{"domain":[0,482],"reverse":true,"nice":false,"zero":false},"axis":null},"y2":{"field":"y2"}}},
{"data":{"name":"cladesL"},"mark":{"type":"area","orient":"vertical","opacity":1,"interpolate":"linear"},
 "encoding":{"x":{"field":"t","type":"quantitative","scale":{"domain":[-61.35,74.53],"reverse":true,"nice":false,"zero":false},"axis":null},
 "y":{"field":"lo","type":"quantitative","scale":{"domain":[0,482],"reverse":true,"nice":false,"zero":false},"axis":null},"y2":{"field":"hi"},
 "detail":{"field":"clade","type":"nominal"},
 "fill":{"field":"shade","type":"nominal","scale":{"domain":["dark","light","blank"],"range":["#000000","#c8c8c8","#ffffff"]},"legend":null}}},
{"data":{"name":"tipsL"},"mark":{"type":"circle","size":30,"color":"#bdbdbd","opacity":1},
 "encoding":{"x":{"field":"t","type":"quantitative","scale":{"domain":[-61.35,74.53],"reverse":true,"nice":false,"zero":false},"axis":null},
 "y":{"field":"y","type":"quantitative","scale":{"domain":[0,482],"reverse":true,"nice":false,"zero":false},"axis":null}}},
{"data":{"name":"arrowL"},"mark":{"type":"rule","strokeWidth":3.5,"color":"#000000"},
 "encoding":{"x":{"field":"t","type":"quantitative","scale":{"domain":[-61.35,74.53],"reverse":true,"nice":false,"zero":false},"axis":null},"x2":{"field":"t2"},
 "y":{"field":"y","type":"quantitative","scale":{"domain":[0,482],"reverse":true,"nice":false,"zero":false},"axis":null},"y2":{"field":"y2"}}},
{"data":{"name":"headL"},"mark":{"type":"area","orient":"vertical","opacity":1,"color":"#000000","interpolate":"linear"},
 "encoding":{"x":{"field":"t","type":"quantitative","scale":{"domain":[-61.35,74.53],"reverse":true,"nice":false,"zero":false},"axis":null},
 "y":{"field":"lo","type":"quantitative","scale":{"domain":[0,482],"reverse":true,"nice":false,"zero":false},"axis":null},"y2":{"field":"hi"}}},
{"data":{"name":"labelsL"},"transform":[{"filter":"datum.kind == 'genus'"}],"mark":{"type":"text","align":"left","baseline":"middle","fontStyle":"italic","fontSize":7.5,"font":"Liberation Sans"},
 "encoding":{"x":{"field":"t","type":"quantitative","scale":{"domain":[-61.35,74.53],"reverse":true,"nice":false,"zero":false},"axis":null},
 "y":{"field":"y","type":"quantitative","scale":{"domain":[0,482],"reverse":true,"nice":false,"zero":false},"axis":null},"text":{"field":"label"}}},
{"data":{"name":"labelsL"},"transform":[{"filter":"datum.kind == 'group'"}],"mark":{"type":"text","align":"left","baseline":"middle","fontSize":7.5,"font":"Liberation Sans"},
 "encoding":{"x":{"field":"t","type":"quantitative","scale":{"domain":[-61.35,74.53],"reverse":true,"nice":false,"zero":false},"axis":null},
 "y":{"field":"y","type":"quantitative","scale":{"domain":[0,482],"reverse":true,"nice":false,"zero":false},"axis":null},"text":{"field":"label"}}},
{"data":{"name":"labelsL"},"transform":[{"filter":"datum.kind == 'subfamily'"}],"mark":{"type":"text","align":"left","baseline":"middle","fontWeight":"bold","font":"Liberation Sans"},
 "encoding":{"x":{"field":"t","type":"quantitative","scale":{"domain":[-61.35,74.53],"reverse":true,"nice":false,"zero":false},"axis":null},
 "y":{"field":"y","type":"quantitative","scale":{"domain":[0,482],"reverse":true,"nice":false,"zero":false},"axis":null},"text":{"field":"label"},
 "size":{"field":"rank","type":"ordinal","scale":{"domain":["minor","main","major"],"range":[7.5,9.5,10.5]},"legend":null}}},
{"data":{"name":"labelsL"},"transform":[{"filter":"datum.kind == 'number'"}],"mark":{"type":"text","align":"left","baseline":"middle","fontWeight":"bold","fontSize":9,"font":"Liberation Sans"},
 "encoding":{"x":{"field":"t","type":"quantitative","scale":{"domain":[-61.35,74.53],"reverse":true,"nice":false,"zero":false},"axis":null},
 "y":{"field":"y","type":"quantitative","scale":{"domain":[0,482],"reverse":true,"nice":false,"zero":false},"axis":null},"text":{"field":"label"}}},
{"data":{"name":"labelsL"},"transform":[{"filter":"datum.kind == 'callout'"}],"mark":{"type":"text","align":"left","baseline":"middle","fontWeight":"bold","fontSize":9.5,"font":"Liberation Sans"},
 "encoding":{"x":{"field":"t","type":"quantitative","scale":{"domain":[-61.35,74.53],"reverse":true,"nice":false,"zero":false},"axis":null},
 "y":{"field":"y","type":"quantitative","scale":{"domain":[0,482],"reverse":true,"nice":false,"zero":false},"axis":null},"text":{"field":"label"}}},
{"data":{"name":"labelsL"},"transform":[{"filter":"datum.kind == 'tribe'"}],"mark":{"type":"text","align":"center","baseline":"middle","angle":90,"fontSize":12.5,"font":"Liberation Sans"},
 "encoding":{"x":{"field":"t","type":"quantitative","scale":{"domain":[-61.35,74.53],"reverse":true,"nice":false,"zero":false},"axis":null},
 "y":{"field":"y","type":"quantitative","scale":{"domain":[0,482],"reverse":true,"nice":false,"zero":false},"axis":null},"text":{"field":"label"}}},
{"data":{"name":"labelsL"},"transform":[{"filter":"datum.kind == 'taxon'"}],"mark":{"type":"text","align":"center","baseline":"middle","angle":90,"fontSize":15,"font":"Liberation Sans"},
 "encoding":{"x":{"field":"t","type":"quantitative","scale":{"domain":[-61.35,74.53],"reverse":true,"nice":false,"zero":false},"axis":null},
 "y":{"field":"y","type":"quantitative","scale":{"domain":[0,482],"reverse":true,"nice":false,"zero":false},"axis":null},"text":{"field":"label"}}},
{"data":{"name":"ticks"},"mark":{"type":"text","align":"center","baseline":"middle","fontSize":12,"font":"Liberation Sans"},
 "encoding":{"x":{"field":"t","type":"quantitative","scale":{"domain":[-61.35,74.53],"reverse":true,"nice":false,"zero":false},"axis":null},
 "y":{"field":"y","type":"quantitative","scale":{"domain":[0,482],"reverse":true,"nice":false,"zero":false},"axis":null},"text":{"field":"label"}}},
{"data":{"name":"labelsL"},"transform":[{"filter":"datum.kind == 'unit'"}],"mark":{"type":"text","align":"left","baseline":"middle","fontSize":12,"font":"Liberation Sans"},
 "encoding":{"x":{"field":"t","type":"quantitative","scale":{"domain":[-61.35,74.53],"reverse":true,"nice":false,"zero":false},"axis":null},
 "y":{"field":"y","type":"quantitative","scale":{"domain":[0,482],"reverse":true,"nice":false,"zero":false},"axis":null},"text":{"field":"label"}}}
]
},
{
"width": 308, "height": 482,
"layer": [
{"data":{"name":"scalebar"},"mark":{"type":"rect","stroke":"#b5b5b5","strokeWidth":0.6},
 "encoding":{"x":{"field":"t","type":"quantitative","scale":{"domain":[-43.24,83.59],"nice":false,"zero":false},"axis":null},"x2":{"field":"t2"},
 "y":{"field":"y","type":"quantitative","scale":{"domain":[0,482],"reverse":true,"nice":false,"zero":false},"axis":null},"y2":{"field":"y2"},
 "fill":{"field":"band","type":"nominal","scale":{"domain":["dark","light","blank"],"range":["#000000","#c8c8c8","#ffffff"]},"legend":null}}},
{"data":{"name":"branchesR"},"mark":{"type":"rule","strokeWidth":1},
 "encoding":{"x":{"field":"t","type":"quantitative","scale":{"domain":[-43.24,83.59],"nice":false,"zero":false},"axis":null},"x2":{"field":"t2"},
 "y":{"field":"y","type":"quantitative","scale":{"domain":[0,482],"reverse":true,"nice":false,"zero":false},"axis":null},"y2":{"field":"y2"},
 "stroke":{"field":"support","type":"nominal","scale":{"domain":["strong","weak"],"range":["#000000","#8c8c8c"]},"legend":null}}},
{"data":{"name":"bracketsR"},"transform":[{"filter":"datum.kind == 'bracket'"}],"mark":{"type":"rule","strokeWidth":1,"color":"#000000"},
 "encoding":{"x":{"field":"t","type":"quantitative","scale":{"domain":[-43.24,83.59],"nice":false,"zero":false},"axis":null},"x2":{"field":"t2"},
 "y":{"field":"y","type":"quantitative","scale":{"domain":[0,482],"reverse":true,"nice":false,"zero":false},"axis":null},"y2":{"field":"y2"}}},
{"data":{"name":"bracketsR"},"transform":[{"filter":"datum.kind == 'bar'"}],"mark":{"type":"rule","strokeWidth":2,"color":"#000000"},
 "encoding":{"x":{"field":"t","type":"quantitative","scale":{"domain":[-43.24,83.59],"nice":false,"zero":false},"axis":null},"x2":{"field":"t2"},
 "y":{"field":"y","type":"quantitative","scale":{"domain":[0,482],"reverse":true,"nice":false,"zero":false},"axis":null},"y2":{"field":"y2"}}},
{"data":{"name":"cladesR"},"mark":{"type":"area","orient":"vertical","opacity":1,"interpolate":"linear"},
 "encoding":{"x":{"field":"t","type":"quantitative","scale":{"domain":[-43.24,83.59],"nice":false,"zero":false},"axis":null},
 "y":{"field":"lo","type":"quantitative","scale":{"domain":[0,482],"reverse":true,"nice":false,"zero":false},"axis":null},"y2":{"field":"hi"},
 "detail":{"field":"clade","type":"nominal"},
 "fill":{"field":"shade","type":"nominal","scale":{"domain":["dark","light","blank"],"range":["#000000","#c8c8c8","#ffffff"]},"legend":null}}},
{"data":{"name":"tipsR"},"mark":{"type":"circle","size":30,"color":"#bdbdbd","opacity":1},
 "encoding":{"x":{"field":"t","type":"quantitative","scale":{"domain":[-43.24,83.59],"nice":false,"zero":false},"axis":null},
 "y":{"field":"y","type":"quantitative","scale":{"domain":[0,482],"reverse":true,"nice":false,"zero":false},"axis":null}}},
{"data":{"name":"arrowR"},"mark":{"type":"rule","strokeWidth":3.5,"color":"#000000"},
 "encoding":{"x":{"field":"t","type":"quantitative","scale":{"domain":[-43.24,83.59],"nice":false,"zero":false},"axis":null},"x2":{"field":"t2"},
 "y":{"field":"y","type":"quantitative","scale":{"domain":[0,482],"reverse":true,"nice":false,"zero":false},"axis":null},"y2":{"field":"y2"}}},
{"data":{"name":"headR"},"mark":{"type":"area","orient":"vertical","opacity":1,"color":"#000000","interpolate":"linear"},
 "encoding":{"x":{"field":"t","type":"quantitative","scale":{"domain":[-43.24,83.59],"nice":false,"zero":false},"axis":null},
 "y":{"field":"lo","type":"quantitative","scale":{"domain":[0,482],"reverse":true,"nice":false,"zero":false},"axis":null},"y2":{"field":"hi"}}},
{"data":{"name":"labelsR"},"transform":[{"filter":"datum.kind == 'genus'"}],"mark":{"type":"text","align":"left","baseline":"middle","fontStyle":"italic","fontSize":7.5,"font":"Liberation Sans"},
 "encoding":{"x":{"field":"t","type":"quantitative","scale":{"domain":[-43.24,83.59],"nice":false,"zero":false},"axis":null},
 "y":{"field":"y","type":"quantitative","scale":{"domain":[0,482],"reverse":true,"nice":false,"zero":false},"axis":null},"text":{"field":"label"}}},
{"data":{"name":"labelsR"},"transform":[{"filter":"datum.kind == 'group'"}],"mark":{"type":"text","align":"left","baseline":"middle","fontSize":7.5,"font":"Liberation Sans"},
 "encoding":{"x":{"field":"t","type":"quantitative","scale":{"domain":[-43.24,83.59],"nice":false,"zero":false},"axis":null},
 "y":{"field":"y","type":"quantitative","scale":{"domain":[0,482],"reverse":true,"nice":false,"zero":false},"axis":null},"text":{"field":"label"}}},
{"data":{"name":"labelsR"},"transform":[{"filter":"datum.kind == 'subfamily'"}],"mark":{"type":"text","align":"left","baseline":"middle","fontWeight":"bold","font":"Liberation Sans"},
 "encoding":{"x":{"field":"t","type":"quantitative","scale":{"domain":[-43.24,83.59],"nice":false,"zero":false},"axis":null},
 "y":{"field":"y","type":"quantitative","scale":{"domain":[0,482],"reverse":true,"nice":false,"zero":false},"axis":null},"text":{"field":"label"},
 "size":{"field":"rank","type":"ordinal","scale":{"domain":["minor","main","major"],"range":[7.5,9.5,10.5]},"legend":null}}},
{"data":{"name":"labelsR"},"transform":[{"filter":"datum.kind == 'number'"}],"mark":{"type":"text","align":"right","baseline":"middle","fontWeight":"bold","fontSize":9,"font":"Liberation Sans"},
 "encoding":{"x":{"field":"t","type":"quantitative","scale":{"domain":[-43.24,83.59],"nice":false,"zero":false},"axis":null},
 "y":{"field":"y","type":"quantitative","scale":{"domain":[0,482],"reverse":true,"nice":false,"zero":false},"axis":null},"text":{"field":"label"}}},
{"data":{"name":"labelsR"},"transform":[{"filter":"datum.kind == 'callout'"}],"mark":{"type":"text","align":"left","baseline":"middle","fontWeight":"bold","fontSize":9.5,"font":"Liberation Sans"},
 "encoding":{"x":{"field":"t","type":"quantitative","scale":{"domain":[-43.24,83.59],"nice":false,"zero":false},"axis":null},
 "y":{"field":"y","type":"quantitative","scale":{"domain":[0,482],"reverse":true,"nice":false,"zero":false},"axis":null},"text":{"field":"label"}}},
{"data":{"name":"ticks"},"mark":{"type":"text","align":"center","baseline":"middle","fontSize":12,"font":"Liberation Sans"},
 "encoding":{"x":{"field":"t","type":"quantitative","scale":{"domain":[-43.24,83.59],"nice":false,"zero":false},"axis":null},
 "y":{"field":"y","type":"quantitative","scale":{"domain":[0,482],"reverse":true,"nice":false,"zero":false},"axis":null},"text":{"field":"label"}}},
{"data":{"name":"labelsR"},"transform":[{"filter":"datum.kind == 'unit'"}],"mark":{"type":"text","align":"left","baseline":"middle","fontSize":12,"font":"Liberation Sans"},
 "encoding":{"x":{"field":"t","type":"quantitative","scale":{"domain":[-43.24,83.59],"nice":false,"zero":false},"axis":null},
 "y":{"field":"y","type":"quantitative","scale":{"domain":[0,482],"reverse":true,"nice":false,"zero":false},"axis":null},"text":{"field":"label"}}}
]
}
]
}
